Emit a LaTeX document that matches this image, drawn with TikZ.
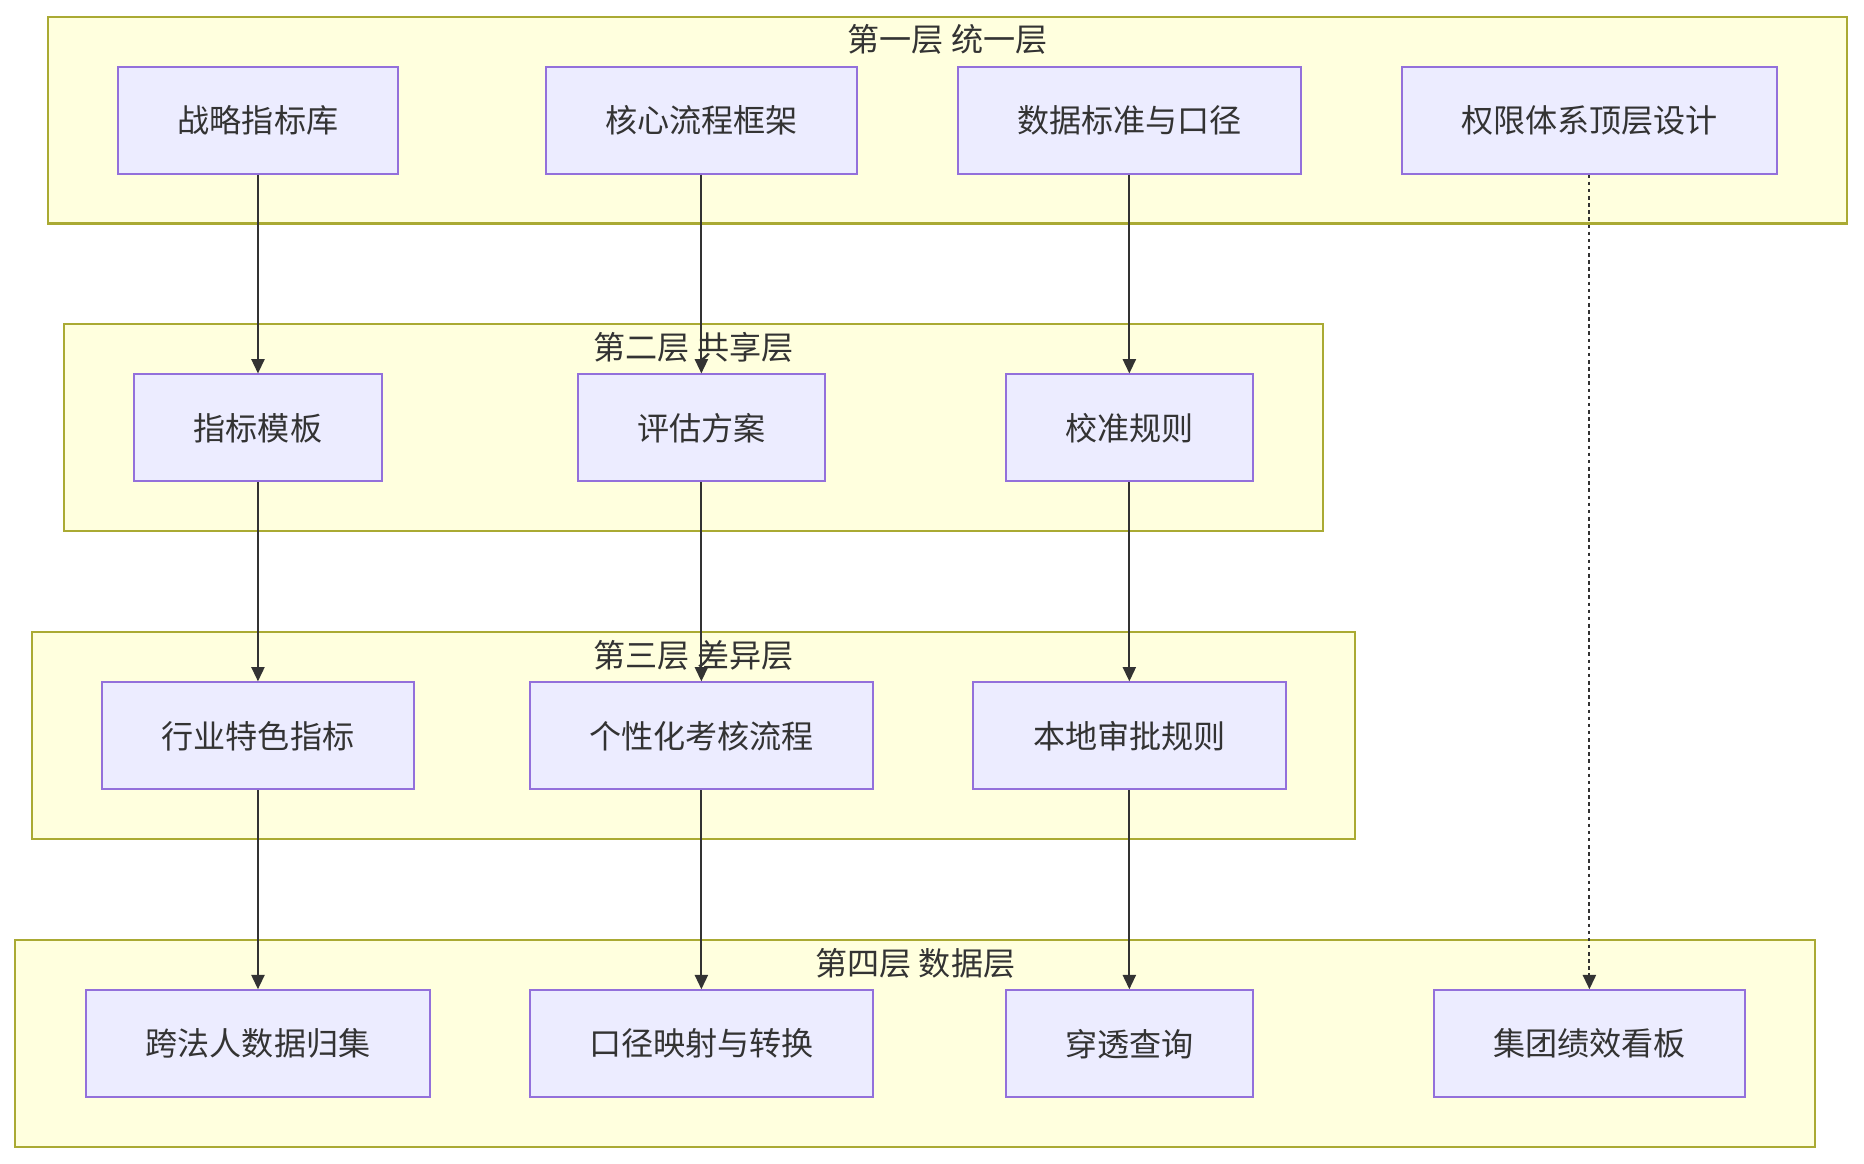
\documentclass[tikz,border=0pt]{standalone}
\usepackage{fontspec}
\setmainfont{Noto Sans CJK SC}
\usetikzlibrary{arrows.meta}
\definecolor{boxfill}{HTML}{ECECFF}
\definecolor{boxline}{HTML}{9370DB}
\definecolor{grpfill}{HTML}{FFFFDE}
\definecolor{grpline}{HTML}{AAAA33}
\definecolor{txt}{HTML}{333333}
\tikzset{
  every node/.style={font=\fontsize{27}{30}\selectfont, text=txt},
  grp/.style={draw=grpline, fill=grpfill, line width=1.7pt, inner sep=0pt, minimum height=174pt},
  box/.style={draw=boxline, fill=boxfill, line width=1.7pt, inner sep=0pt, minimum height=90pt},
  grptitle/.style={inner sep=0pt},
  arr/.style={draw=txt, line width=1.6pt, -{Triangle[length=12pt,width=11pt]}},
  darr/.style={arr, dash pattern=on 3pt off 3pt}
}
\begin{document}
\begin{tikzpicture}[x=1pt,y=-1pt]
\useasboundingbox (0,0) rectangle (1568,979);
\fill[white] (0,0) rectangle (1568,979);
% groups
\node[grp, minimum width=1514pt] (g1) at (797,101) {};
\node[grp, minimum width=1059pt] (g2) at (583.5,359.5) {};
\node[grp, minimum width=1113pt] (g3) at (583.5,619) {};
\node[grp, minimum width=1514pt] (g4) at (770,878) {};
\node[grptitle] (t1) at (797,33) {第一层 统一层};
\node[grptitle] (t2) at (583.5,292) {第二层 共享层};
\node[grptitle] (t3) at (583.5,551) {第三层 差异层};
\node[grptitle] (t4) at (770,810) {第四层 数据层};
% row 1
\node[box, minimum width=235pt] (a1) at (217,101) {战略指标库};
\node[box, minimum width=262pt] (b1) at (590,101) {核心流程框架};
\node[box, minimum width=289pt] (c1) at (950,101) {数据标准与口径};
\node[box, minimum width=316pt] (d1) at (1337,101) {权限体系顶层设计};
% row 2
\node[box, minimum width=208pt] (a2) at (217,360) {指标模板};
\node[box, minimum width=208pt] (b2) at (590,360) {评估方案};
\node[box, minimum width=208pt] (c2) at (950,360) {校准规则};
% row 3
\node[box, minimum width=262pt] (a3) at (217,619) {行业特色指标};
\node[box, minimum width=289pt] (b3) at (590,619) {个性化考核流程};
\node[box, minimum width=263pt] (c3) at (950,619) {本地审批规则};
% row 4
\node[box, minimum width=289pt] (a4) at (217,878) {跨法人数据归集};
\node[box, minimum width=289pt] (b4) at (590,878) {口径映射与转换};
\node[box, minimum width=208pt] (c4) at (950,878) {穿透查询};
\node[box, minimum width=262pt] (d4) at (1337,878) {集团绩效看板};
% connectors
\draw[arr] (a1.south) -- (a2.north);
\draw[arr] (a2.south) -- (a3.north);
\draw[arr] (a3.south) -- (a4.north);
\draw[arr] (b1.south) -- (b2.north);
\draw[arr] (b2.south) -- (b3.north);
\draw[arr] (b3.south) -- (b4.north);
\draw[arr] (c1.south) -- (c2.north);
\draw[arr] (c2.south) -- (c3.north);
\draw[arr] (c3.south) -- (c4.north);
\draw[darr] (d1.south) -- (d4.north);
\end{tikzpicture}
\end{document}
